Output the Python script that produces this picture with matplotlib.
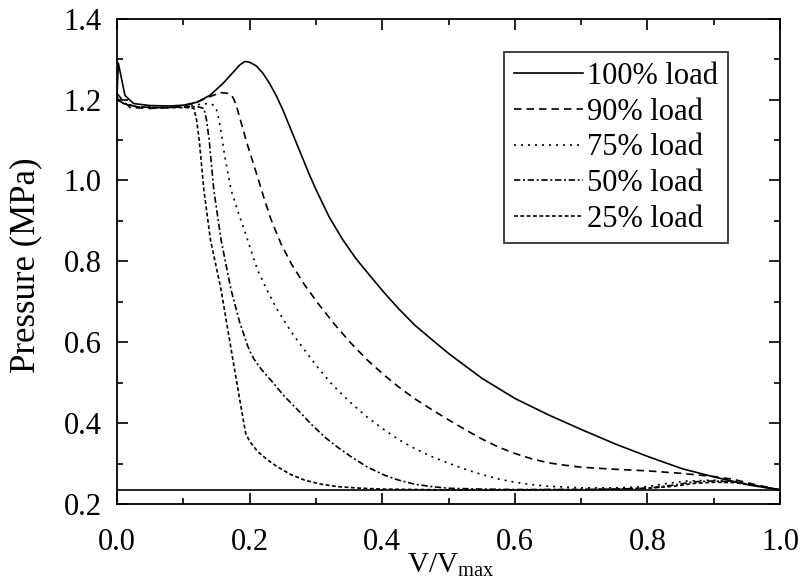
import matplotlib
matplotlib.use("Agg")
import matplotlib.pyplot as plt
from matplotlib.ticker import MultipleLocator, FormatStrFormatter

plt.rcParams['font.family'] = ['Liberation Serif', 'DejaVu Serif']
plt.rcParams['mathtext.fontset'] = 'custom'
plt.rcParams['mathtext.rm'] = 'Liberation Serif'
plt.rcParams['mathtext.it'] = 'Liberation Serif:italic'

# Expansion curves, pressure (MPa) versus V/Vmax
x_100 = [0.0, 0.002, 0.012, 0.025, 0.05, 0.08, 0.10, 0.12, 0.14, 0.16, 0.175, 0.185, 0.193,
         0.20, 0.21, 0.22, 0.23, 0.24, 0.25, 0.26, 0.27, 0.28, 0.29, 0.30, 0.32, 0.34, 0.36,
         0.38, 0.404, 0.425, 0.449, 0.475, 0.50, 0.55, 0.60, 0.651, 0.702, 0.752, 0.803, 0.853,
         0.903, 0.954, 1.0]
p_100 = [1.21, 1.29, 1.21, 1.19, 1.185, 1.184, 1.186, 1.193, 1.21, 1.24, 1.267, 1.285, 1.294,
         1.292, 1.283, 1.265, 1.24, 1.21, 1.175, 1.135, 1.095, 1.055, 1.015, 0.978, 0.91, 0.855,
         0.808, 0.768, 0.721, 0.683, 0.643, 0.607, 0.573, 0.512, 0.462, 0.421, 0.384, 0.349,
         0.317, 0.288, 0.267, 0.248, 0.236]

x_90 = [0.0, 0.01, 0.02, 0.05, 0.08, 0.10, 0.12, 0.14, 0.156, 0.169, 0.175, 0.18, 0.186, 0.196,
        0.212, 0.222, 0.232, 0.247, 0.263, 0.283, 0.303, 0.328, 0.353, 0.378, 0.404, 0.425,
        0.449, 0.475, 0.50, 0.525, 0.55, 0.575, 0.60, 0.625, 0.65, 0.675, 0.70, 0.75, 0.80,
        0.85, 0.90, 0.93, 0.96, 1.0]
p_90 = [1.215, 1.195, 1.18, 1.178, 1.18, 1.183, 1.193, 1.207, 1.217, 1.215, 1.205, 1.185, 1.15,
        1.092, 1.009, 0.955, 0.905, 0.845, 0.794, 0.742, 0.697, 0.645, 0.598, 0.556, 0.518,
        0.49, 0.461, 0.434, 0.409, 0.385, 0.362, 0.342, 0.326, 0.313, 0.303, 0.297, 0.292,
        0.287, 0.283, 0.277, 0.269, 0.262, 0.25, 0.236]

x_75 = [0.0, 0.01, 0.03, 0.06, 0.09, 0.11, 0.125, 0.138, 0.146, 0.15, 0.154, 0.158, 0.162,
        0.167, 0.172, 0.182, 0.192, 0.202, 0.212, 0.227, 0.242, 0.262, 0.283, 0.303, 0.323,
        0.348, 0.374, 0.40, 0.425, 0.449, 0.475, 0.50, 0.525, 0.55, 0.575, 0.60, 0.625, 0.651,
        0.70, 0.75, 0.80, 0.83, 0.86, 0.90, 0.93, 0.96, 1.0]
p_75 = [1.205, 1.19, 1.182, 1.18, 1.181, 1.183, 1.188, 1.19, 1.186, 1.175, 1.149, 1.11, 1.065,
        1.02, 0.977, 0.925, 0.878, 0.828, 0.779, 0.727, 0.68, 0.628, 0.581, 0.538, 0.499,
        0.458, 0.42, 0.388, 0.36, 0.338, 0.318, 0.302, 0.287, 0.274, 0.263, 0.255, 0.249,
        0.245, 0.241, 0.241, 0.244, 0.252, 0.258, 0.26, 0.257, 0.248, 0.236]

x_50 = [0.0, 0.01, 0.03, 0.06, 0.09, 0.11, 0.122, 0.131, 0.135, 0.139, 0.146, 0.157, 0.172,
        0.185, 0.197, 0.202, 0.207, 0.217, 0.232, 0.252, 0.273, 0.293, 0.313, 0.333, 0.353,
        0.378, 0.404, 0.425, 0.449, 0.475, 0.50, 0.55, 0.60, 0.65, 0.70, 0.75, 0.80, 0.84,
        0.87, 0.90, 0.93, 0.96, 1.0]
p_50 = [1.20, 1.19, 1.182, 1.18, 1.181, 1.182, 1.182, 1.178, 1.15, 1.10, 0.977, 0.853, 0.73,
        0.65, 0.592, 0.573, 0.558, 0.535, 0.507, 0.468, 0.433, 0.398, 0.367, 0.341, 0.318,
        0.292, 0.272, 0.26, 0.25, 0.244, 0.24, 0.238, 0.237, 0.237, 0.237, 0.238, 0.24, 0.248,
        0.256, 0.258, 0.256, 0.248, 0.236]

x_25 = [0.0, 0.01, 0.03, 0.06, 0.09, 0.105, 0.112, 0.116, 0.12, 0.124, 0.131, 0.141, 0.157,
        0.174, 0.187, 0.194, 0.20, 0.212, 0.227, 0.242, 0.262, 0.283, 0.308, 0.333, 0.37, 0.40,
        0.50, 0.60, 0.70, 0.75, 0.80, 0.84, 0.87, 0.90, 0.93, 0.96, 1.0]
p_25 = [1.20, 1.19, 1.182, 1.18, 1.18, 1.18, 1.179, 1.178, 1.15, 1.10, 0.977, 0.853, 0.73,
        0.565, 0.441, 0.376, 0.356, 0.331, 0.31, 0.293, 0.274, 0.26, 0.25, 0.244, 0.24, 0.238,
        0.236, 0.236, 0.237, 0.238, 0.24, 0.245, 0.252, 0.255, 0.254, 0.247, 0.236]

suction_pressure = 0.236

labels = ['100% load', '90% load', '75% load', '50% load', '25% load']
series_x = [x_100, x_90, x_75, x_50, x_25]
series_p = [p_100, p_90, p_75, p_50, p_25]
styles = ['-', (0, (4.5, 3.0)), (0, (1.2, 3.0)), (0, (3.8, 1.6, 1.2, 1.6)), (0, (2.3, 1.5))]

fig = plt.figure(figsize=(8.03, 5.82), dpi=100)
ax = fig.add_axes([0.1457, 0.1332, 0.8257, 0.8350])

for xs, ps, ls, lab in zip(series_x, series_p, styles, labels):
    ax.plot(xs, ps, color='black', linestyle=ls, linewidth=1.2, label=lab)

ax.axhline(suction_pressure, color='black', linewidth=1.2)

ax.set_xlim(0.0, 1.0)
ax.set_ylim(0.2, 1.4)
ax.xaxis.set_major_locator(MultipleLocator(0.2))
ax.xaxis.set_minor_locator(MultipleLocator(0.1))
ax.yaxis.set_major_locator(MultipleLocator(0.2))
ax.yaxis.set_minor_locator(MultipleLocator(0.1))
ax.xaxis.set_major_formatter(FormatStrFormatter('%.1f'))
ax.yaxis.set_major_formatter(FormatStrFormatter('%.1f'))
ax.tick_params(which='both', direction='in', top=True, right=True, width=1.2)
ax.tick_params(which='major', length=8, labelsize=22)
ax.tick_params(which='minor', length=4.5)
ax.tick_params(axis='x', which='major', pad=17)
ax.tick_params(axis='y', which='major', pad=11)
for sp in ax.spines.values():
    sp.set_linewidth(1.3)

ax.set_xlabel(r'V/V$_{\mathrm{max}}$', fontsize=21)
ax.xaxis.set_label_coords(0.503, -0.098)
ax.set_ylabel('Pressure (MPa)', fontsize=25)
ax.yaxis.set_label_coords(-0.112, 0.492)

leg = ax.legend(loc='upper right', bbox_to_anchor=(0.9216, 0.931), fontsize=22,
                frameon=True, fancybox=False, edgecolor='black', handlelength=2.25,
                handletextpad=0.15, labelspacing=0.22, borderpad=0.32, borderaxespad=0)
leg.get_frame().set_linewidth(1.3)

fig.savefig('out.png', dpi=100)
